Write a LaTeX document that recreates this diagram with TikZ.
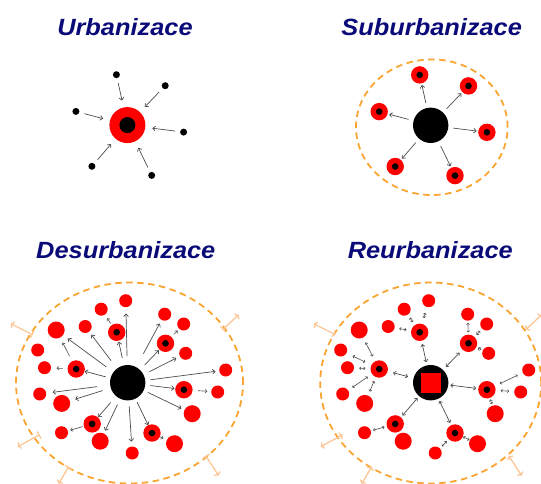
\documentclass[tikz,border=0pt]{standalone}
\usepackage{fontspec}
\setmainfont{Liberation Sans}
\newfontfamily\headfont{Liberation Sans}[FakeStretch=1.08]
\usetikzlibrary{arrows.meta}

\definecolor{navy}{RGB}{10,10,120}
\definecolor{rim}{RGB}{250,165,50}
\definecolor{peach}{RGB}{252,198,150}

% places round the centre (offsets from the centre)
\newcommand\ringspots{1/-11/-50.4, 2/37.8/-39.4, 3/-51.5/-13.7, 4/56.2/7, 5/-35.5/41.2, 6/24.3/50.3}
\newcommand\smallspots{1/-2/-82/13pt, 2/-26.5/-73.5/13pt, 3/37/-68.5/13pt, 4/56/-58.7/13pt,
  5/-71.5/-52.7/17pt, 6/-42.5/-56.2/13pt, 7/-90/-32.7/13pt, 8/58/-29.4/13pt,
  9/-83.2/-15/13pt, 10/98/-12.7/13pt, 11/-88/11.3/13pt, 12/-66/20.7/17pt,
  13/90/9.3/13pt, 14/64.5/31/17pt, 15/-66.2/50/13pt, 16/-27.5/58.5/17pt,
  17/46.8/61/17pt, 18/4.5/70.3/13pt}
\newcommand\sprawl{1/-95/-48/-117/-59, 2/95/-53/111/-68, 3/-88/52/-110/64, 4/-59/84/-69/101, 5/78/73/91/93}

\begin{document}
\begin{tikzpicture}[x=1pt,y=-1pt,
  heading/.style={font=\headfont\bfseries\itshape\fontsize{23.5}{28}\selectfont,text=navy,anchor=base,inner sep=0pt},
  spot/.style={circle,fill=red,inner sep=0pt,minimum size=#1},
  spot/.default=13pt,
  ring/.style={spot=17.4pt,path picture={\fill[black] (path picture bounding box.center) circle (3.3pt);}},
  core/.style={spot=36pt,path picture={\fill[black] (path picture bounding box.center) circle (8pt);}},
  town/.style={circle,fill=black,inner sep=0pt,minimum size=7pt},
  hub/.style={circle,fill=black,inner sep=0pt,minimum size=35.4pt},
  plaza/.style={fill=red,inner sep=0pt,minimum size=20pt},
  zone/.style={draw=rim,line width=1.8pt,dash pattern=on 6.5pt off 4.5pt},
  flow/.style={draw=black!70,line width=0.7pt,-{To[length=3.2pt,width=5.2pt]}},
  twig/.style={draw=black!70,line width=0.6pt,-{To[length=2.5pt,width=4pt]}},
  link/.style={draw=black!70,line width=0.7pt,{To[length=2.8pt,width=4.5pt]}-{To[length=2.8pt,width=4.5pt]}},
  tinylink/.style={draw=black!70,line width=0.6pt,{To[length=2pt,width=3.4pt]}-{To[length=2pt,width=3.4pt]}},
  spread/.style={draw=peach,line width=1.3pt,{Bar[width=8pt]}-{To[length=3.2pt,width=7.5pt]}},
  spreadboth/.style={draw=peach,line width=1.3pt,{To[length=3.2pt,width=7.5pt]}-{To[length=3.2pt,width=7.5pt]}}
]
\useasboundingbox (0,0) rectangle (541,483);

% titles
\node[heading] (tu) at (125,35) {Urbanizace};
\node[heading] (ts) at (431.7,35) {Suburbanizace};
\node[heading] (td) at (125.8,258.3) {Desurbanizace};
\node[heading] (tr) at (430.3,258.3) {Reurbanizace};

% Urbanizace
\begin{scope}[shift={(127.4,125.1)}]
  \node[core] (uc) at (0,0) {};
  \foreach \n/\x/\y in \ringspots {
    \node[town] (ut\n) at (\x,\y) {};
    \draw[flow,shorten <=5pt,shorten >=7pt] (ut\n) -- (uc);
  }
\end{scope}

% Suburbanizace
\begin{scope}[shift={(430.7,125.3)}]
  \draw[zone] (1.1,1.9) ellipse [x radius=75.8pt,y radius=67.8pt];
  \node[hub] (sh) at (0,0) {};
  \foreach \n/\x/\y in \ringspots {
    \node[ring] (sr\n) at (\x,\y) {};
    \draw[flow,shorten <=5pt,shorten >=1.5pt] (sh) -- (sr\n);
  }
\end{scope}

% Desurbanizace
\begin{scope}[shift={(127.7,382.7)}]
  \draw[zone] (1.8,0.3) ellipse [x radius=113.5pt,y radius=100.5pt];
  \node[hub] (dh) at (0,0) {};
  \foreach \n/\x/\y in \ringspots
    \node[ring] (dr\n) at (\x,\y) {};
  \foreach \n/\x/\y/\s in \smallspots
    \node[spot=\s] (ds\n) at (\x,\y) {};
  \foreach \t/\ta/\tb in {ds1/8.6pt/6.2pt, ds3/15pt/4pt, ds5/8.7pt/5.8pt, ds6/9.7pt/3.6pt,
      ds8/6.3pt/4pt, ds10/5pt/3.7pt, ds11/13pt/6.4pt, ds12/8.4pt/5.5pt, ds14/4.5pt/3.3pt,
      ds16/6.2pt/3pt, ds18/5.9pt/4.8pt, dr1/7.4pt/0.8pt, dr2/6.7pt/0.8pt, dr3/4.8pt/0pt,
      dr4/4.9pt/0.6pt, dr5/8.2pt/0pt, dr6/3.8pt/0pt}
    \draw[flow,shorten <=\ta,shorten >=\tb] (dh) -- (\t);
  \foreach \f/\t/\ta/\tb in {dr1/ds2/1.7pt/4.2pt, dr2/ds4/3.6pt/2.3pt, dr3/ds5/5.5pt/5.5pt,
      dr3/ds9/4.7pt/5.4pt, dr4/ds13/5.3pt/3.7pt, dr5/ds15/1pt/2.6pt, dr6/ds17/0pt/3.6pt}
    \draw[twig,shorten <=\ta,shorten >=\tb] (\f) -- (\t);
  \foreach \n/\xa/\ya/\xb/\yb in \sprawl {
    \coordinate (dg\n) at (\xa,\ya);
    \coordinate (dgt\n) at (\xb,\yb);
    \draw[spread] (dg\n) -- (dgt\n);
  }
\end{scope}

% Reurbanizace
\begin{scope}[shift={(430.7,382.7)}]
  \draw[zone] (0,0.3) ellipse [x radius=110.5pt,y radius=100.5pt];
  \node[hub] (rh) at (0,0) {};
  \node[plaza] (rq) at (rh) {};
  \foreach \n/\x/\y in \ringspots
    \node[ring] (rr\n) at (\x,\y) {};
  \foreach \n/\x/\y/\s in \smallspots
    \node[spot=\s] (rs\n) at (\x,\y) {};
  \foreach \t/\g in {rr1/3.2pt, rr2/4.2pt, rr3/5.6pt, rr4/2pt, rr5/2.3pt, rr6/2.4pt}
    \draw[link,shorten <=\g,shorten >=\g] (rh) -- (\t);
  \foreach \f/\t/\g in {rr1/rs1/6pt, rr1/rs2/3.5pt, rr1/rs6/4.6pt, rr2/rs3/2pt, rr2/rs4/2.9pt,
      rr2/rs8/1.5pt, rr3/rs5/5.3pt, rr3/rs7/6.7pt, rr3/rs9/5pt, rr3/rs11/5pt, rr3/rs12/4.2pt,
      rr4/rs10/5.5pt, rr4/rs13/4.9pt, rr4/rs14/1.4pt, rr5/rs15/2.3pt, rr6/rs17/0.2pt, rr6/rs18/2.8pt}
    \draw[tinylink,shorten <=\g,shorten >=\g] (\f) -- (\t);
  \foreach \n/\xa/\ya/\xb/\yb in \sprawl {
    \coordinate (rg\n) at (\xa,\ya);
    \coordinate (rgt\n) at (\xb,\yb);
    \draw[spreadboth] (rg\n) -- (rgt\n);
  }
\end{scope}
\end{tikzpicture}
\end{document}
